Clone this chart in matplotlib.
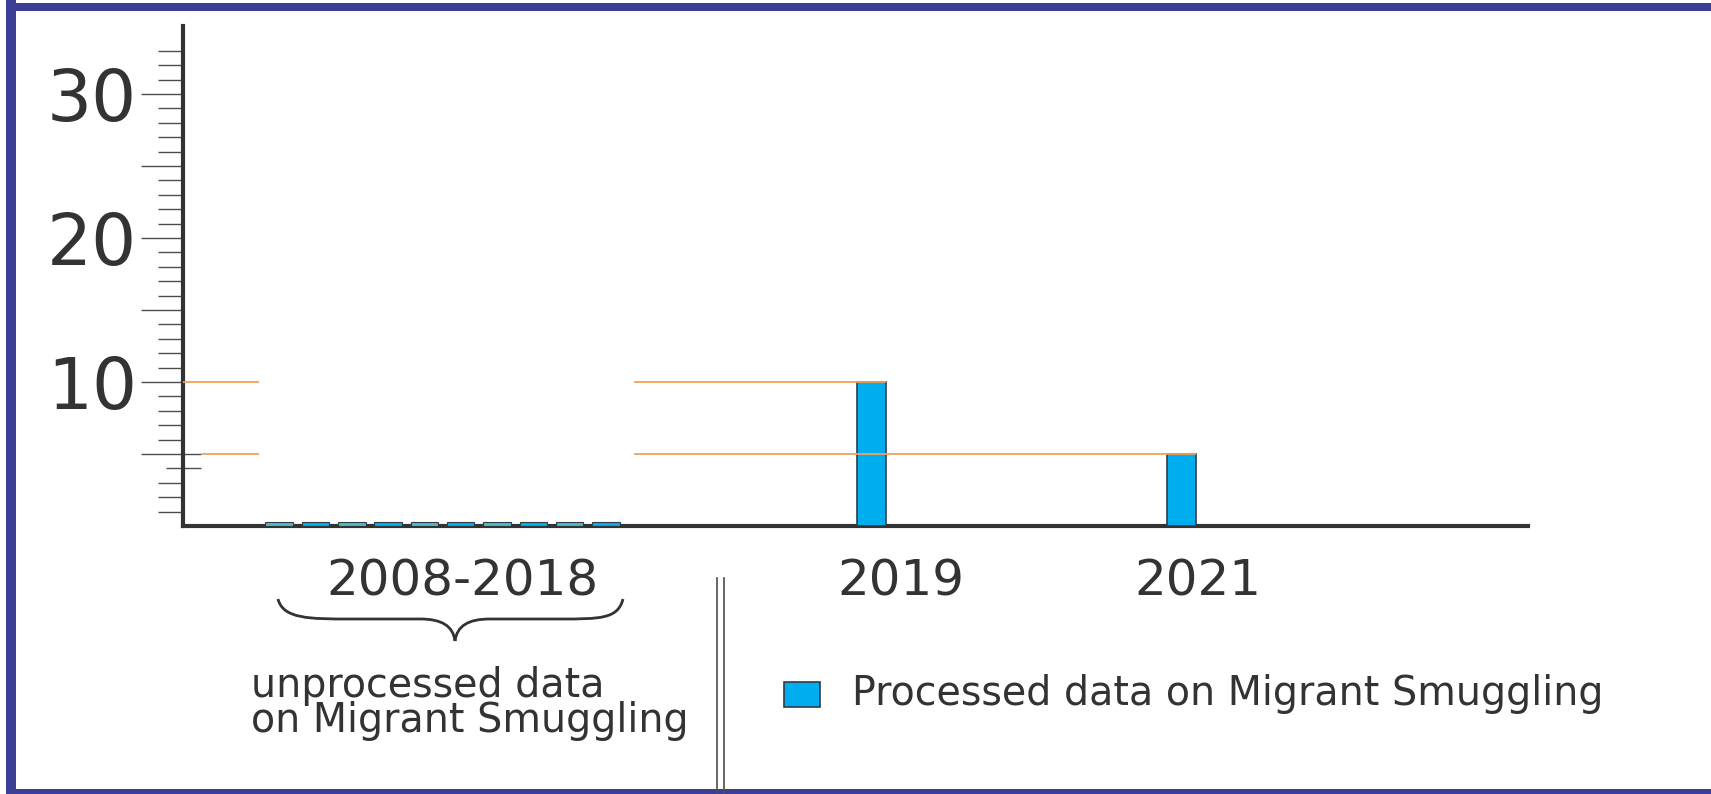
import numpy as np
import matplotlib
matplotlib.use('Agg')
import matplotlib.pyplot as plt
from matplotlib.patches import Rectangle, PathPatch
from matplotlib.path import Path
from matplotlib.lines import Line2D
from matplotlib.transforms import Affine2D

# ---- data ----
unprocessed_label = '2008-2018'
unprocessed_values = [0.3, 0.3, 0.3, 0.3, 0.3, 0.3, 0.3, 0.3, 0.3, 0.3]
processed_years = ['2019', '2021']
processed_values = [10, 5]
y_major = [10, 20, 30]
legend_text = 'Processed data on Migrant Smuggling'
note_lines = ['unprocessed data', 'on Migrant Smuggling']

# ---- style ----
blue = '#00aeef'
teal = '#4cbac6'
orange = '#f0a15c'
dark = '#333333'
tick_grey = '#4d4d4d'
edge = '#2f3d48'
frame = '#3b3e92'

plt.rcParams['font.family'] = 'DejaVu Sans'

W, H = 1711, 794
fig = plt.figure(figsize=(W / 100, H / 100), dpi=100)
# pixel transform with origin at top-left of the picture
px = Affine2D().scale(1 / W, -1 / H).translate(0, 1) + fig.transFigure

ax = fig.add_axes([183 / W, 1 - 526 / H, (1528 - 183) / W, (526 - 26) / H])
ax.set_xlim(0, (1528 - 183) / 36.3)
ax.set_ylim(0, (526 - 26) / 14.4)

# bar positions (one unit = one small bar slot)
small_pos = 2.65 + np.arange(len(unprocessed_values))
proc_pos = [18.97, 27.52]
small_colors = [teal if i % 2 == 0 else blue for i in range(len(unprocessed_values))]

ax.bar(small_pos, unprocessed_values, width=0.76, color=small_colors,
       edgecolor=edge, linewidth=0.8, zorder=3)
ax.bar(proc_pos, processed_values, width=0.8, color=blue,
       edgecolor=edge, linewidth=1.2, zorder=3)

# orange reference lines, broken around the 2008-2018 block
gap = (2.09, 12.42)
ax.hlines(processed_values[0], 0, gap[0], color=orange, lw=1.3, zorder=4)
ax.hlines(processed_values[0], gap[1], proc_pos[0] + 0.4, color=orange, lw=1.3, zorder=4)
ax.hlines(processed_values[1], 0.5, gap[0], color=orange, lw=1.3, zorder=4)
ax.hlines(processed_values[1], gap[1], proc_pos[1] + 0.4, color=orange, lw=1.3, zorder=4)

# spines
for s in ['top', 'right']:
    ax.spines[s].set_visible(False)
for s in ['left', 'bottom']:
    ax.spines[s].set_linewidth(3)
    ax.spines[s].set_color(dark)

# ticks
ax.set_xticks([])
ax.set_yticks(y_major)
ax.set_yticklabels([str(v) for v in y_major], fontsize=51, color=dark)
ax.tick_params(axis='y', which='major', length=30, width=1, color=tick_grey, pad=3)
minor = [v for v in range(1, 34) if v % 10]
ax.set_yticks(minor, minor=True)
ax.tick_params(axis='y', which='minor', length=18, width=1, color=tick_grey)
for t, v in zip(ax.yaxis.get_minor_ticks(len(minor)), minor):
    if v in (5, 15, 25):
        t.tick1line.set_markersize(30)
    elif v == 4:
        t.tick1line.set_markersize(12)
ax.hlines([5, 4], 0, 0.5, color=tick_grey, lw=1, zorder=2)

# category labels under the axis
label_x = [7.69, 19.78, 27.96]
for x, txt in zip(label_x, [unprocessed_label] + processed_years):
    ax.annotate(txt, xy=(x, 0), xytext=(0, -49.7), textcoords='offset points',
                ha='center', va='baseline', fontsize=36, color=dark,
                annotation_clip=False)

# curly brace under 2008-2018
verts = [(278, 599), (283, 619), (310, 619), (350, 619),
         (420, 619),
         (442, 619), (453, 626), (455, 641),
         (455, 641),
         (457, 626), (468, 619), (490, 619),
         (560, 619),
         (600, 619), (618, 619), (623, 599)]
codes = [Path.MOVETO, Path.CURVE4, Path.CURVE4, Path.CURVE4,
         Path.LINETO,
         Path.CURVE4, Path.CURVE4, Path.CURVE4,
         Path.MOVETO,
         Path.CURVE4, Path.CURVE4, Path.CURVE4,
         Path.LINETO,
         Path.CURVE4, Path.CURVE4, Path.CURVE4]
fig.add_artist(PathPatch(Path(verts, codes), transform=px, fill=False,
                         edgecolor=dark, lw=2))

# note text (one block, two lines; baseline given for the last line)
fig.text(251 / W, 1 - 732 / H, '\n'.join(note_lines), fontsize=28.5, color=dark,
         va='baseline', linespacing=0.83)

# double divider
for x in (717, 724):
    fig.add_artist(Line2D([x, x], [578, 794], transform=px, color=tick_grey, lw=1.2))

# legend
fig.add_artist(Rectangle((784, 682), 36, 25, transform=px, facecolor=blue,
                         edgecolor=edge, lw=1.2))
fig.text(852 / W, 1 - 705 / H, legend_text, fontsize=28.5, color=dark, va='baseline')

# frame
fig.add_artist(Rectangle((6, 0), 10, H, transform=px, color=frame, lw=0))
fig.add_artist(Rectangle((6, 3), W, 8, transform=px, color=frame, lw=0))
fig.add_artist(Rectangle((6, 789), W, 6, transform=px, color=frame, lw=0))

fig.savefig('out.png', dpi=100)
